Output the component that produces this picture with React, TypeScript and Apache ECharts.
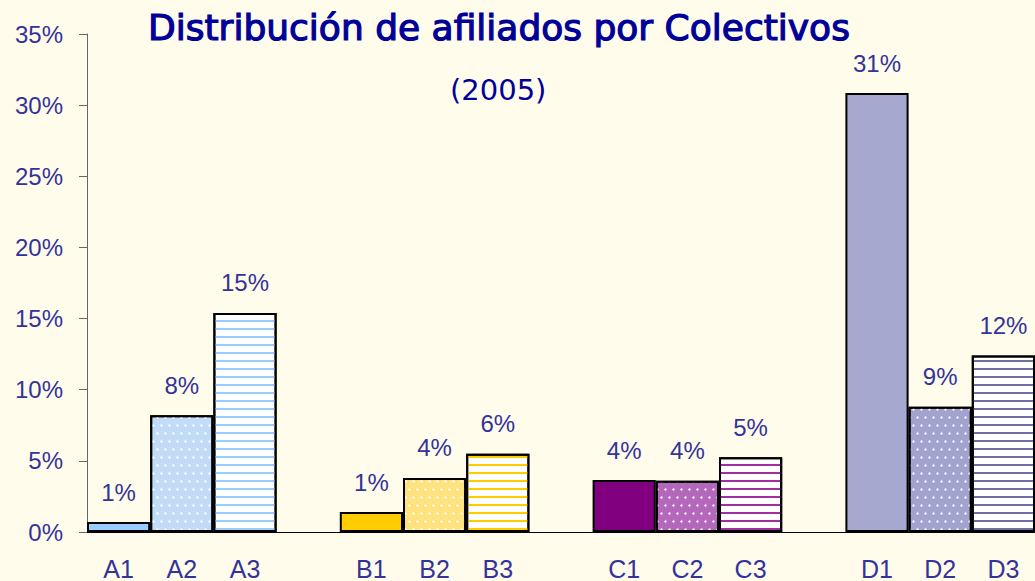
import React, { useEffect, useRef } from "react";
import * as echarts from "echarts";

const categories = ["A1", "A2", "A3", "", "B1", "B2", "B3", "", "C1", "C2", "C3", "", "D1", "D2", "D3"];
const values: (number | null)[] = [0.7, 8.2, 15.4, null, 1.4, 3.8, 5.5, null, 3.65, 3.6, 5.25, null, 30.85, 8.8, 12.4];
const yTicks = [0, 5, 10, 15, 20, 25, 30, 35];

const solid = (c: string) => ({ color: c });
const dots = (c: string) => ({
  color: c,
  decal: { symbol: "circle", symbolSize: 0.8, color: "rgba(255,255,255,0.95)", dashArrayX: [[3, 5], [0, 4, 3, 1]], dashArrayY: [3, 5] },
});
const stripes = (c: string) => ({
  color: "#ffffff",
  decal: { symbol: "rect", symbolSize: 1, color: c, dashArrayX: [1, 0], dashArrayY: [2, 5.5] },
});

const styles: any[] = [
  solid("#99ccff"), dots("#c2dcf8"), stripes("#99ccff"), null,
  solid("#ffcc00"), dots("#ffe280"), stripes("#ffcc00"), null,
  solid("#800080"), dots("#b468bc"), stripes("#a030a0"), null,
  solid("#a7a8cf"), dots("#a2a4cf"), stripes("#6f6fa3"),
];

export default function App() {
  const ref = useRef<HTMLDivElement>(null);
  useEffect(() => {
    document.body.style.margin = "0";
    const chart = echarts.init(ref.current!, null, { renderer: "svg" });
    const data = values.map((v, i) =>
      v == null
        ? { value: null }
        : { value: v, itemStyle: { ...styles[i], borderColor: "#000", borderWidth: 2 } }
    );
    chart.setOption({
      animation: false,
      backgroundColor: "#fffcec",
      title: [
        {
          text: "Distribución de afiliados por Colectivos",
          left: 143,
          top: 4,
          textStyle: {
            color: "#000099",
            fontSize: 36,
            fontWeight: "normal",
            fontFamily: "DejaVu Sans",
            textBorderColor: "#000099",
            textBorderWidth: 1.2,
          },
        },
        {
          text: "(2005)",
          left: 445,
          top: 70,
          textStyle: { color: "#000099", fontSize: 29, fontWeight: "normal", fontFamily: "DejaVu Sans" },
        },
      ],
      grid: { left: 87, top: 34, height: 499, width: 950, containLabel: false },
      xAxis: {
        type: "category",
        data: categories,
        axisTick: { show: false },
        axisLine: { lineStyle: { color: "#000", width: 1 } },
        axisLabel: { color: "#333399", fontSize: 25, fontFamily: "Liberation Sans", margin: 24, interval: 0 },
      },
      yAxis: {
        type: "value",
        min: 0,
        max: 35,
        interval: 5,
        splitLine: { show: false },
        axisLine: { show: true, lineStyle: { color: "#666", width: 1 } },
        axisTick: { show: true, length: 8, lineStyle: { color: "#666" } },
        axisLabel: {
          color: "#333399",
          fontSize: 24,
          fontFamily: "Liberation Sans",
          margin: 24,
          formatter: (v: number) => (yTicks.includes(v) ? v + "%" : ""),
        },
      },
      series: [
        {
          type: "bar",
          data,
          barWidth: "100%",
          barCategoryGap: 0,
          label: {
            show: true,
            position: "top",
            distance: 18,
            color: "#333399",
            fontSize: 24,
            fontFamily: "Liberation Sans",
            formatter: (p: any) => (p.value == null ? "" : Math.round(p.value) + "%"),
          },
        },
      ],
    });
    return () => chart.dispose();
  }, []);
  return <div ref={ref} style={{ width: 1035, height: 581 }} />;
}
